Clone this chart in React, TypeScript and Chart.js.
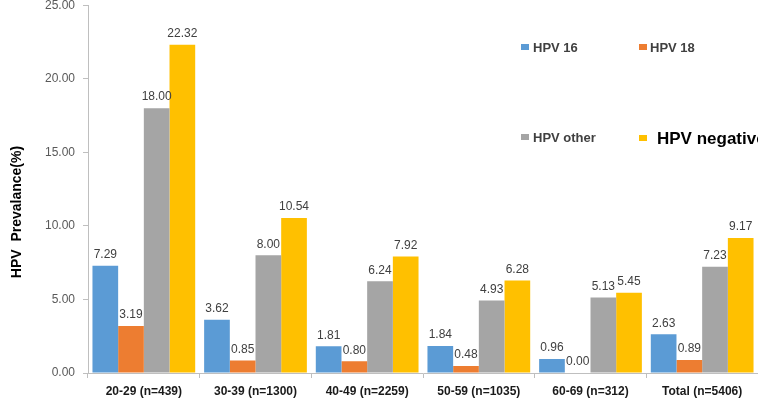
import React, { useEffect, useRef } from "react";
import { Chart, registerables } from "chart.js";

Chart.register(...registerables);

const categories = ["20-29 (n=439)", "30-39 (n=1300)", "40-49 (n=2259)", "50-59 (n=1035)", "60-69 (n=312)", "Total (n=5406)"];
const hpv16 = [7.29, 3.62, 1.81, 1.84, 0.96, 2.63];
const hpv18 = [3.19, 0.85, 0.8, 0.48, 0.0, 0.89];
const hpvOther = [18.0, 8.0, 6.24, 4.93, 5.13, 7.23];
const hpvNegative = [22.32, 10.54, 7.92, 6.28, 5.45, 9.17];
const seriesNames = ["HPV 16", "HPV 18", "HPV other", "HPV negative"];
const yTitle = "HPV  Prevalance(%)";
const colors = ["#5B9BD5", "#ED7D31", "#A5A5A5", "#FFC000"];

const SHIFT = 10;

const valueLabels = {
  id: "valueLabels",
  afterDatasetsDraw(chart: any) {
    const ctx = chart.ctx;
    ctx.save();
    ctx.font = "12px 'Liberation Sans', Arial, sans-serif";
    ctx.fillStyle = "#404040";
    ctx.textAlign = "center";
    ctx.textBaseline = "bottom";
    chart.data.datasets.forEach((ds: any, i: number) => {
      const meta = chart.getDatasetMeta(i);
      meta.data.forEach((bar: any, j: number) => {
        ctx.fillText(ds.data[j].toFixed(2), bar.x, bar.y - 5);
      });
    });
    ctx.restore();
  },
};

const customLegend = {
  id: "customLegend",
  afterDraw(chart: any) {
    const ctx = chart.ctx;
    ctx.save();
    ctx.translate(0, SHIFT);
    const items = [
      { x: 521, y: 47, color: "#404040", font: "bold 13px 'Liberation Sans', Arial, sans-serif", gap: 12 },
      { x: 639, y: 47, color: "#404040", font: "bold 13px 'Liberation Sans', Arial, sans-serif", gap: 11 },
      { x: 521, y: 137, color: "#404040", font: "bold 13px 'Liberation Sans', Arial, sans-serif", gap: 12 },
      { x: 639, y: 138, color: "#000000", font: "bold 17px 'Liberation Sans', Arial, sans-serif", gap: 18 },
    ];
    items.forEach((it, i) => {
      ctx.fillStyle = colors[i];
      ctx.fillRect(it.x, it.y - 3, 8, 6);
      ctx.fillStyle = it.color;
      ctx.font = it.font;
      ctx.textAlign = "left";
      ctx.textBaseline = "middle";
      ctx.fillText(seriesNames[i], it.x + it.gap, it.y + 1);
    });
    ctx.translate(17, 212);
    ctx.rotate(-Math.PI / 2);
    ctx.font = "bold 14px 'Liberation Sans', Arial, sans-serif";
    ctx.fillStyle = "#000000";
    ctx.textAlign = "center";
    ctx.textBaseline = "middle";
    ctx.fillText(yTitle, 0, 0);
    ctx.restore();
  },
};

export default function App() {
  const ref = useRef<HTMLCanvasElement>(null);
  useEffect(() => {
    document.body.style.margin = "0";
    const chart = new Chart(ref.current!, {
      type: "bar",
      data: {
        labels: categories,
        datasets: [hpv16, hpv18, hpvOther, hpvNegative].map((d, i) => ({
          label: seriesNames[i],
          data: d,
          backgroundColor: colors[i],
          borderWidth: 0,
          barPercentage: 1,
          categoryPercentage: 0.92,
        })),
      },
      options: {
        animation: false,
        responsive: false,
        maintainAspectRatio: false,
        layout: { padding: 0 },
        plugins: { legend: { display: false }, tooltip: { enabled: false } },
        scales: {
          x: {
            grid: { display: true, drawOnChartArea: false, offset: true, color: "#BFBFBF", tickLength: 5 },
            border: { color: "#BFBFBF" },
            ticks: {
              color: "#1a1a1a",
              font: { family: "'Liberation Sans', Arial, sans-serif", size: 12, weight: "bold" },
              maxRotation: 0,
              autoSkip: false,
              padding: 6,
            },
            afterFit: (s: any) => { s.height = 47; },
          },
          y: {
            min: 0,
            max: 25,
            grid: { display: true, drawOnChartArea: false, color: "#BFBFBF", tickLength: 5 },
            border: { color: "#BFBFBF" },
            ticks: {
              stepSize: 5,
              color: "#595959",
              font: { family: "'Liberation Sans', Arial, sans-serif", size: 12 },
              callback: (v: any) => Number(v).toFixed(2),
              padding: 8,
            },
            afterFit: (s: any) => { s.width = 88; },
          },
        },
      },
      plugins: [valueLabels, customLegend],
    });
    return () => chart.destroy();
  }, []);
  return (
    <div style={{ position: "absolute", left: 0, top: 0, width: 758, height: 420, overflow: "hidden", background: "#fff" }}>
      <canvas ref={ref} width={758} height={420 + SHIFT} style={{ position: "absolute", left: 0, top: -SHIFT, width: 758, height: 420 + SHIFT }} />
    </div>
  );
}
